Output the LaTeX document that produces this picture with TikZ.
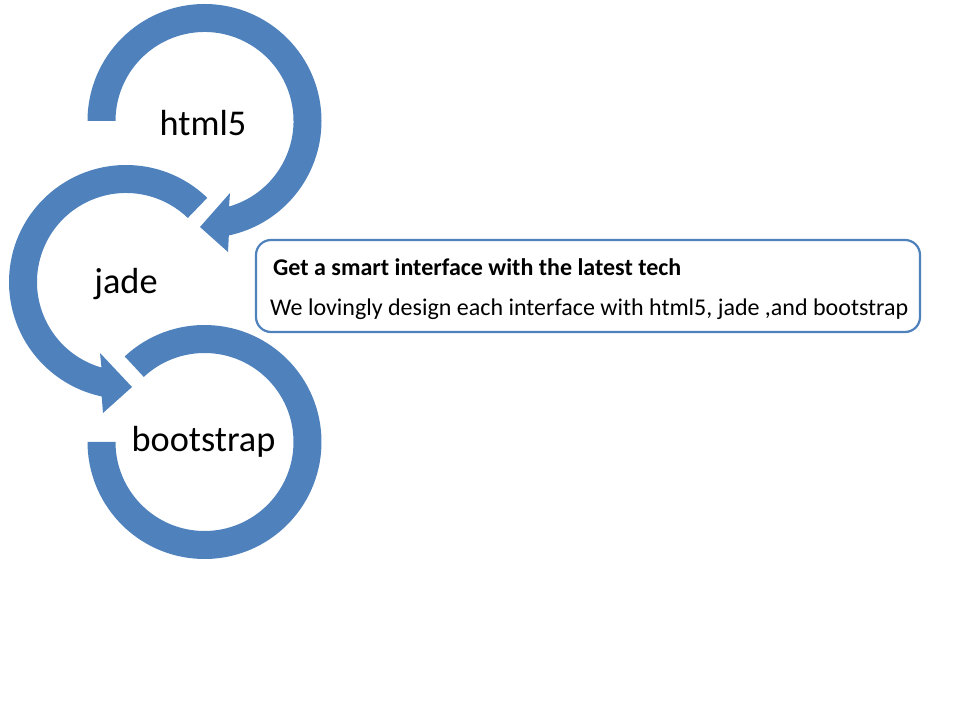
\documentclass[tikz,border=0pt]{standalone}
\usepackage{fontspec}
\setmainfont{Carlito}
\usetikzlibrary{calc}
\definecolor{acc}{HTML}{4F81BD}
\begin{document}
\begin{tikzpicture}[x=1pt,y=1pt,
  ring/.style={fill=acc,draw=none},
  biglabel/.style={font=\fontsize{36.3}{40}\selectfont,inner sep=0pt},
  infobox/.style={draw=acc,line width=2.2pt,rounded corners=15pt,fill=white,minimum width=664pt,minimum height=92pt},
  titletext/.style={font=\fontsize{24}{28}\selectfont\bfseries,anchor=west,inner sep=0pt},
  bodytext/.style={font=\fontsize{24}{28}\selectfont,anchor=west,inner sep=0pt}]
\useasboundingbox (0,0) rectangle (960,720);
% centres
\coordinate (c1) at (204.5,599);
\coordinate (c2) at (126,438);
\coordinate (c3) at (204.5,278);
% ring 1 (html5)
\fill[ring] ($(c1)+(180:117)$) arc[start angle=180,end angle=-78,radius=117]
  -- (228,468) -- (200,493) -- (230,527)
  -- ($(c1)+(-74:89)$) arc[start angle=-74,end angle=180,radius=89] -- cycle;
% ring 2 (jade)
\fill[ring] ($(c2)+(46:117)$) arc[start angle=46,end angle=258,radius=117]
  -- (103,307) -- (132,333) -- (100,367)
  -- ($(c2)+(254:89)$) arc[start angle=254,end angle=46,radius=89] -- cycle;
% ring 3 (bootstrap)
\fill[ring] ($(c3)+(133:117)$) arc[start angle=133,end angle=-180,radius=117]
  -- ($(c3)+(180:89)$) arc[start angle=-180,end angle=133,radius=89] -- cycle;
% labels
\node[biglabel] (l1) at (203,597) {html5};
\node[biglabel] (l2) at (126,436) {jade};
\node[biglabel] (l3) at (203.5,278) {bootstrap};
% info box
\node[infobox] (box) at (588,434) {};
\node[titletext] (title) at (273,453) {Get a smart interface with the latest tech};
\node[bodytext] (body) at (270,411) {We lovingly design each interface with html5, jade ,and bootstrap};
\end{tikzpicture}
\end{document}
